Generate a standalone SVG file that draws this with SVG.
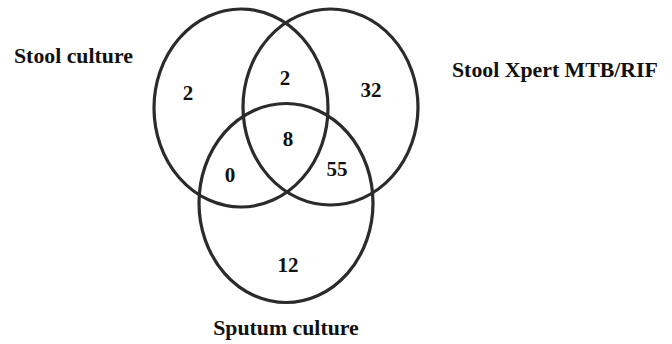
<svg xmlns="http://www.w3.org/2000/svg" width="672" height="344" viewBox="0 0 672 344">
<style>
.set{fill:none;stroke:#2b2b2b;stroke-width:3.2}
.lbl{font-family:"Liberation Serif","Times New Roman",serif;font-weight:bold;font-size:21.8px;fill:#111}
.num{font-family:"Liberation Serif","Times New Roman",serif;font-weight:bold;font-size:21px;fill:#111;text-anchor:middle}
</style>
<rect width="672" height="344" fill="#fff"/>
<g id="connectors"></g>
<g id="stool-culture">
<ellipse class="set" cx="241" cy="108" rx="87" ry="99"/>
<text class="lbl" x="14" y="63">Stool culture</text>
</g>
<g id="stool-xpert">
<ellipse class="set" cx="330.5" cy="107" rx="87.5" ry="98"/>
<text class="lbl" x="452" y="77">Stool Xpert MTB/RIF</text>
</g>
<g id="sputum-culture">
<ellipse class="set" cx="286" cy="203" rx="87" ry="99.5"/>
<text class="lbl" x="286" y="335" text-anchor="middle">Sputum culture</text>
</g>
<g id="counts">
<text class="num" x="188" y="100">2</text>
<text class="num" x="285" y="85">2</text>
<text class="num" x="371" y="97">32</text>
<text class="num" x="288" y="146">8</text>
<text class="num" x="230" y="182">0</text>
<text class="num" x="337" y="176">55</text>
<text class="num" x="288" y="272">12</text>
</g>
</svg>
